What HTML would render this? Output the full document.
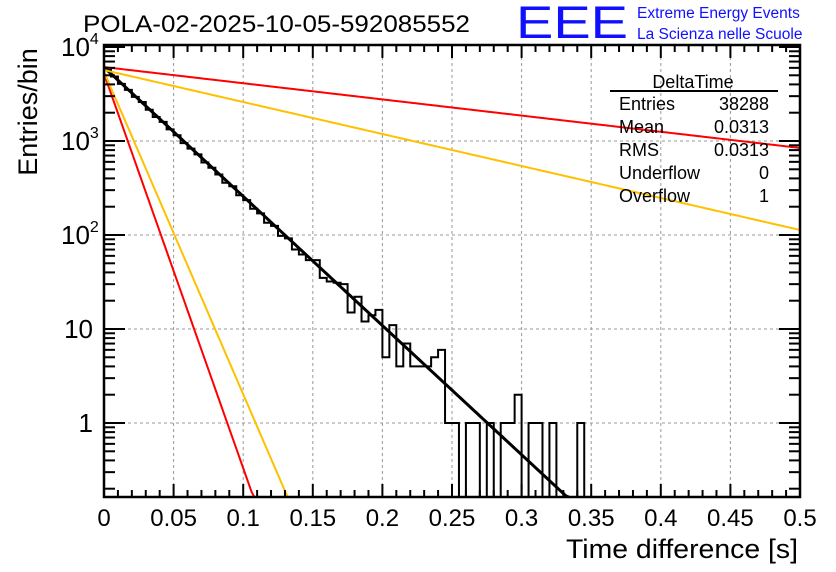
<!DOCTYPE html>
<html><head><meta charset="utf-8"><style>
body{margin:0;background:#fff;width:836px;height:572px;overflow:hidden;font-family:"Liberation Sans",sans-serif}
svg{display:block}
</style></head><body>
<svg id="c" width="836" height="572" xmlns="http://www.w3.org/2000/svg">
<text x="83" y="32" font-size="24" textLength="387" lengthAdjust="spacingAndGlyphs">POLA-02-2025-10-05-592085552</text>
<text x="516" y="38" font-size="45" fill="#1010ff" textLength="112" lengthAdjust="spacingAndGlyphs">EEE</text>
<text x="637" y="18" font-size="15.5" fill="#1010ff">Extreme Energy Events</text>
<text x="637" y="39" font-size="15.5" fill="#1010ff">La Scienza nelle Scuole</text>
<g id="grid"></g><g id="hist"></g><g id="fits"></g><g id="axes"></g>
<g font-size="18">
<text x="693" y="88" text-anchor="middle">DeltaTime</text>
<line x1="610" y1="91" x2="778" y2="91" stroke="#000" stroke-width="2"/>
<text x="619" y="110">Entries</text><text x="769" y="110" text-anchor="end">38288</text>
<text x="619" y="133">Mean</text><text x="769" y="133" text-anchor="end">0.0313</text>
<text x="619" y="156">RMS</text><text x="769" y="156" text-anchor="end">0.0313</text>
<text x="619" y="179">Underflow</text><text x="769" y="179" text-anchor="end">0</text>
<text x="619" y="202">Overflow</text><text x="769" y="202" text-anchor="end">1</text>
</g>
<text transform="translate(37,112) rotate(-90)" font-size="27" text-anchor="middle">Entries/bin</text>
<text x="566" y="558" font-size="27" textLength="232" lengthAdjust="spacingAndGlyphs">Time difference [s]</text>
</svg>
<script>
const binWidth=0.005;
const counts=[5700,4850,4050,3500,2950,2600,2150,1800,1600,1330,1150,950,830,720,590,520,440,360,330,265,235,190,170,135,125,98,92,70,62,54,54,35,32,31,30,15,22,12,14,16,5,11,4,7,4,4,4,5,6,1,1,0,1,1,0,1,0,1,1,2,0,1,1,0,1,0,0,0,1,0];
const fitA=[6100,5200,5450,6120,5690];
const fitTau=[0.0316,0.01035,0.01266,0.2523,0.1276];
const fitColor=["#000","#ff0000","#ffc000","#ff0000","#ffc000"];
const xTicks=[0,0.05,0.1,0.15,0.2,0.25,0.3,0.35,0.4,0.45,0.5];
const xTickLabels=["0","0.05","0.1","0.15","0.2","0.25","0.3","0.35","0.4","0.45","0.5"];
const yDecades=[0,1,2,3,4];
const X0=104,X1=800,Y0=497,Y1=45;
const X=v=>X0+(v/0.5)*(X1-X0);
const Y=v=>v<=0?Y0:Math.min(Y0,423-94*Math.log10(v));
const NS="http://www.w3.org/2000/svg";
function mk(t,a,p){const e=document.createElementNS(NS,t);for(const k in a)e.setAttribute(k,a[k]);p.appendChild(e);return e;}
const grid=document.getElementById('grid'),axes=document.getElementById('axes'),hist=document.getElementById('hist'),fits=document.getElementById('fits');
xTicks.forEach((t,i)=>{
 if(i>0&&i<xTicks.length-1){const g=mk('line',{x1:X(t),x2:X(t),y1:Y1,y2:Y0,stroke:'#999','stroke-dasharray':'3,3'},grid);
 
 }
 const l=mk('text',{x:X(t),y:526,'font-size':24,'text-anchor':'middle'},axes);l.textContent=xTickLabels[i];
 
 
 mk('line',{x1:X(t),x2:X(t),y1:Y0,y2:Y0-13,stroke:'#000','stroke-width':2},axes);
 mk('line',{x1:X(t),x2:X(t),y1:Y1,y2:Y1+13,stroke:'#000','stroke-width':2},axes);
});
for(let v=0.01;v<0.5;v+=0.01){if(Math.abs(v*20-Math.round(v*20))<1e-6)continue;
 mk('line',{x1:X(v),x2:X(v),y1:Y0,y2:Y0-7,stroke:'#000','stroke-width':2},axes);
 mk('line',{x1:X(v),x2:X(v),y1:Y1,y2:Y1+7,stroke:'#000','stroke-width':2},axes);}
yDecades.forEach(d=>{const y=Y(Math.pow(10,d));
 if(d<4){const g=mk('line',{x1:X0,x2:X1,y1:y,y2:y,stroke:'#999','stroke-dasharray':'3,3'},grid);
 
 }
 mk('line',{x1:X0,x2:X0+21,y1:y,y2:y,stroke:'#000','stroke-width':2},axes);
 mk('line',{x1:X1,x2:X1-21,y1:y,y2:y,stroke:'#000','stroke-width':2},axes);
 const t=mk('text',{x:d>=2?61:93,y:y+9,'font-size':26,'text-anchor':d>=2?'start':'end'},axes);
 
 
 if(d>=2){t.textContent='10';const s=mk('tspan',{dy:-12,'font-size':16},t);s.textContent=String(d);}else t.textContent=d==1?'10':'1';
});
for(let d=-1;d<4;d++)for(let m=2;m<10;m++){const y=Y(m*Math.pow(10,d));if(y>=Y0||y<=Y1)continue;
 mk('line',{x1:X0,x2:X0+11,y1:y,y2:y,stroke:'#000','stroke-width':2},axes);
 mk('line',{x1:X1,x2:X1-11,y1:y,y2:y,stroke:'#000','stroke-width':2},axes);}
const fr=mk('rect',{x:X0,y:Y1,width:X1-X0,height:Y0-Y1,fill:'none',stroke:'#000','stroke-width':2.5},axes);


let d=`M${X(0)},${Y0}`;
counts.forEach((c,i)=>{const y=Y(c);d+=` L${X(i*binWidth)},${y} L${X((i+1)*binWidth)},${y}`;});
d+=` L${X(counts.length*binWidth)},${Y0}`;
const hp=mk('path',{d:d,fill:'none',stroke:'#000','stroke-width':2},hist);


fitA.forEach((A,k)=>{let p='';
 for(let x=0;x<=0.5001;x+=0.002){const v=A*Math.exp(-x/fitTau[k]);const y=423-94*Math.log10(v);if(y>Y0){p+=`L${X(x)},${Y0}`;break;}p+=(p?'L':'M')+X(x)+','+y;}
 const e=mk('path',{d:p,fill:'none',stroke:fitColor[k],'stroke-width':k==0?3:2},fits);
 
 
});
</script>
</body></html>
